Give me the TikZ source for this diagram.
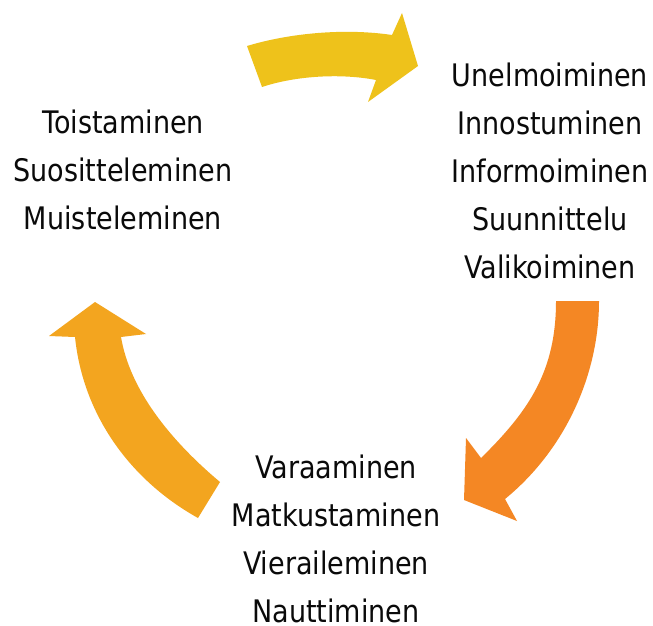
\documentclass[tikz,border=0pt]{standalone}
\usepackage{fontspec}
\setmainfont{DejaVu Sans}[FakeStretch=0.87]
\usepackage{tikz}
\definecolor{bg}{HTML}{FFFFFF}
\definecolor{txt}{HTML}{0A0A0A}
\definecolor{keltainen}{HTML}{EEC21B}
\definecolor{oranssi}{HTML}{F48724}
\definecolor{meripihka}{HTML}{F3A51F}
\tikzset{
  pil/.style={draw=none},
  lab/.style={text=txt, inner sep=0pt, text depth=0pt, anchor=base, font=\fontsize{26.5}{41}\selectfont},
}
\begin{document}
\begin{tikzpicture}[x=0.03cm, y=-0.03cm]
  \useasboundingbox[fill=bg] (0,0) rectangle (653,626);
  % nuolet
  \fill[pil, keltainen] (247,46) .. controls (290,33) and (345,28) .. (392,35)
    -- (402,13) -- (418,66) -- (368,102) -- (376,80)
    .. controls (340,73) and (295,76) .. (262,87) -- cycle;
  \fill[pil, oranssi] (556,301) -- (599,301) .. controls (599,375) and (565,450) .. (505,499)
    -- (517,521) -- (464,500) -- (466,438) -- (481,458)
    .. controls (530,410) and (556,370) .. (556,301) -- cycle;
  \fill[pil, meripihka] (121,337) -- (146,334) -- (95,302) -- (49,336) -- (75,337)
    .. controls (83,415) and (130,480) .. (198,518) -- (220,482)
    .. controls (170,440) and (130,390) .. (121,337) -- cycle;
  % tekstit
  \foreach \t [count=\i] in {Unelmoiminen, Innostuminen, Informoiminen, Suunnittelu, Valikoiminen}
    \node[lab] (oik\i) at (550, {87+(\i-1)*47.8}) {\t};
  \foreach \t [count=\i] in {Varaaminen, Matkustaminen, Vieraileminen, Nauttiminen}
    \node[lab] (ala\i) at (336, {478+(\i-1)*48}) {\t};
  \foreach \t [count=\i] in {Toistaminen, Suositteleminen, Muisteleminen}
    \node[lab] (vas\i) at (123, {134+(\i-1)*48}) {\t};
\end{tikzpicture}
\end{document}
